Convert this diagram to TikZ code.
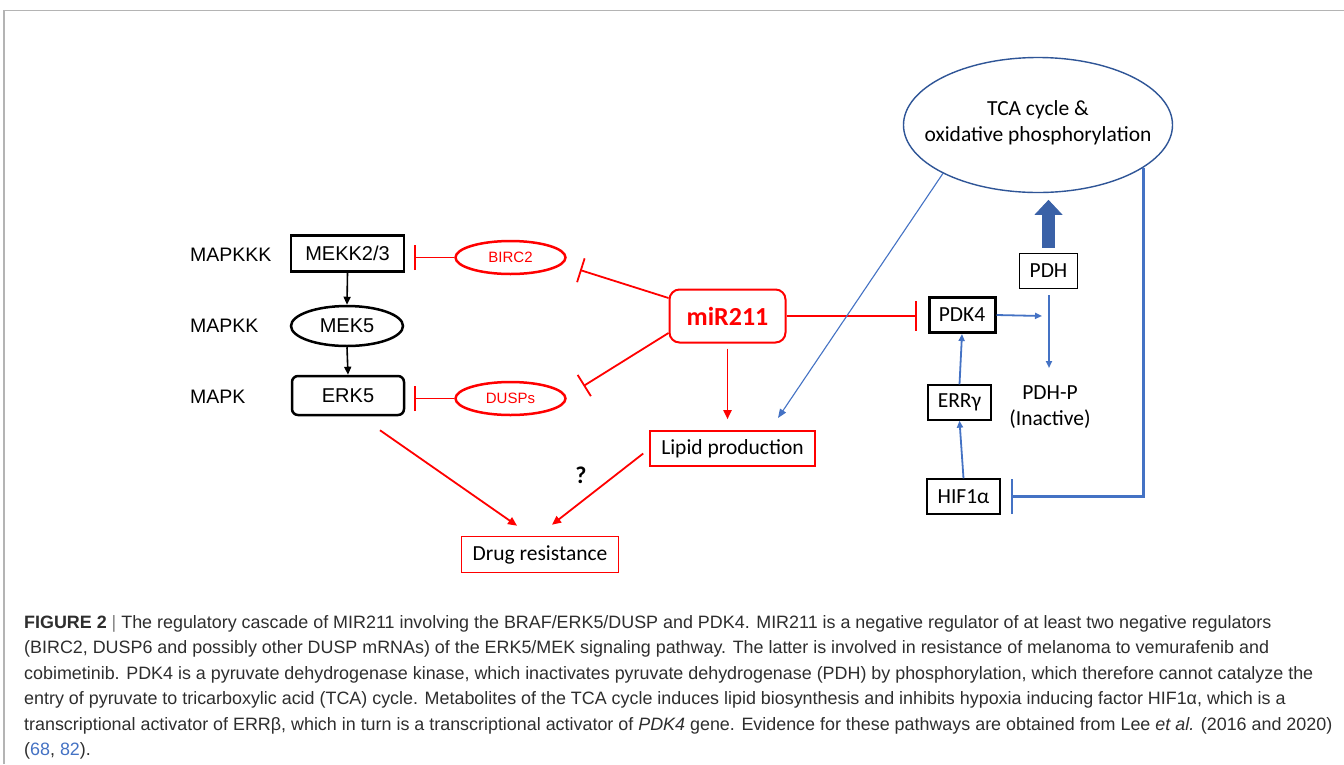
\documentclass[tikz,border=0pt]{standalone}
\usepackage{fontspec}
\setmainfont{Carlito}
\newfontfamily\arialf{Liberation Sans}
\usetikzlibrary{arrows.meta,shapes.geometric}
\definecolor{myred}{HTML}{FF0000}
\definecolor{myblue}{HTML}{4472C4}
\definecolor{darkblue}{HTML}{2F5597}
\definecolor{capgray}{HTML}{2E2E2E}
\definecolor{framegray}{HTML}{B4B4B4}
\begin{document}
\begin{tikzpicture}[x=1pt,y=-1pt,
  lab/.style={font=\arialf\fontsize{19.5}{22}\selectfont, anchor=west, inner sep=0pt},
  kbox/.style={draw=black, line width=2.5pt, inner sep=0pt, font=\arialf\fontsize{20}{24}\selectfont},
  rell/.style={ellipse, draw=myred, line width=2.5pt, inner sep=0pt, text=myred, font=\arialf\fontsize{15}{18}\selectfont, minimum width=110pt, minimum height=33pt},
  tbox/.style={draw=black, line width=1.3pt, inner sep=0pt, font=\fontsize{21.5}{24}\selectfont},
  rbox/.style={draw=myred, line width=1.6pt, inner sep=0pt, font=\fontsize{21.5}{24}\selectfont},
  kar/.style={draw=black, line width=1.6pt, -{Triangle[length=8pt,width=7pt]}},
  rar/.style={draw=myred, line width=1.8pt, -{Triangle[length=9pt,width=8pt]}},
  rinh/.style={draw=myred, line width=1.8pt, -{Bar[width=#1]}},
  rinh/.default=25pt,
  blar/.style={draw=myblue, line width=1.8pt, -{Triangle[length=7pt,width=6pt]}},
  bthin/.style={draw=myblue, line width=1.1pt, -{Triangle[length=9pt,width=7pt]}},
  binh/.style={draw=myblue, line width=2.4pt, -{Bar[width=35pt]}},
  blockar/.style={draw=myblue!85!black, fill=myblue, line width=13pt, -{Triangle[length=15pt,width=28pt, line width=0.8pt]}},
  captext/.style={font=\arialf\fontsize{17.9}{20}\selectfont, text=capgray, anchor=base west, inner sep=0pt}
]
\useasboundingbox (0,0) rectangle (1344,764);
\fill[white] (0,0) rectangle (1344,764);
% frame
\draw[framegray, line width=1.5pt] (4,764) -- (4,10.5) -- (1344,10.5);

% MAPK cascade
\node[lab] (l1) at (190,255) {MAPKKK};
\node[lab] (l2) at (190,326) {MAPKK};
\node[lab] (l3) at (190,397) {MAPK};
\node[kbox, minimum width=113pt, minimum height=36pt] (mekk) at (347.5,253.5) {MEKK2/3};
\node[kbox, ellipse, minimum width=112pt, minimum height=40pt] (mek5) at (347,326) {MEK5};
\node[kbox, rounded corners=6pt, minimum width=112pt, minimum height=39pt] (erk5) at (348,395.5) {ERK5};
\draw[kar] (mekk.south) -- (mek5.north);
\draw[kar] (mek5.south) -- (erk5.north);

\node[rell] (birc2) at (510.5,257.5) {BIRC2};
\node[rell] (dusps) at (510.5,398.5) {DUSPs};
\draw[rinh] (birc2.west) -- ([xshift=9pt]birc2.west -| mekk.east);
\draw[rinh] (dusps.west) -- ([xshift=9pt]dusps.west -| erk5.east);

% miR211
\node[draw=myred, line width=2pt, rounded corners=10pt, minimum width=116pt, minimum height=53pt, inner sep=0pt, text=myred, font=\bfseries\fontsize{26}{30}\selectfont] (mir) at (727.5,316) {miR211};
\coordinate (bb) at (580,270);
\coordinate (bd) at (583.5,386);
\draw[rinh=25pt] ([yshift=18pt]mir.west) -- (bb);
\draw[rinh=25pt] ([yshift=-17pt]mir.west) -- (bd);

% lipid and drug
\node[rbox, minimum width=165pt, minimum height=35pt] (lipid) at (732.5,448.5) {Lipid production};
\node[rbox, minimum width=157pt, minimum height=36pt] (drug) at (540,554.5) {Drug resistance};
\draw[rar] ([yshift=-5pt]mir.south) -- ([yshift=11pt]lipid.north -| mir.south);
\draw[rar] ([xshift=32pt,yshift=-14pt]erk5.south) -- ([xshift=-23pt,yshift=10pt]drug.north);
\draw[rar] ([xshift=-6pt,yshift=-5pt]lipid.west) -- ([xshift=12pt,yshift=11pt]drug.north);
\node[font=\bfseries\fontsize{24}{28}\selectfont, inner sep=0pt] (q) at (581,475) {?};

% right part
\node[ellipse, draw=darkblue, line width=1.4pt, minimum width=269pt, minimum height=135pt, inner sep=0pt] (tca) at (1038,125) {};
\node[align=center, inner sep=0pt, font=\fontsize{21.5}{26}\selectfont] (tcatext) at (1038,123) {TCA cycle \&\\oxidative phosphorylation};
\node[kbox, line width=3pt, font=\fontsize{21.5}{24}\selectfont, minimum width=66pt, minimum height=35pt] (pdk4) at (962,315) {PDK4};
\node[tbox, minimum width=58pt, minimum height=35pt] (pdh) at (1048.5,271) {PDH};
\node[tbox, minimum width=63pt, minimum height=35pt] (err) at (959.5,402.5) {ERRγ};
\node[tbox, minimum width=73pt, minimum height=35pt] (hif) at (963.5,496.5) {HIF1α};
\node[align=center, inner sep=0pt, font=\fontsize{21.5}{26}\selectfont] (pdhp) at (1050,407) {PDH-P\\(Inactive)};

\draw[rinh=30pt] (mir.east) -- ([xshift=-11pt]mir.east -| pdk4.west);
\coordinate (pk) at (1042,316);
\coordinate (pp) at (1049,368);
\coordinate (lp) at (778,418);
\draw[blar] (pdk4.east) -- (pk);
\draw[blar] ([yshift=-6pt]pdh.south -| pp) -- (pp);
\draw[blar] (hif.north) -- (err.south);
\draw[blar] (err.north) -- (pdk4.south);
\draw[bthin] (tca.207) -- (lp);
\draw[binh] (tca.-22) |- ([xshift=10pt]hif.east);
\draw[blockar] ([yshift=5pt]pdh.north) -- ([yshift=53pt]pdh.north);

% caption
\node[captext] (c1) at (24,628) {\textbf{FIGURE 2} {\color{gray}|} The regulatory cascade of MIR211 involving the BRAF/ERK5/DUSP and PDK4. MIR211 is a negative regulator of at least two negative regulators};
\node[captext] (c2) at (24,653.5) {(BIRC2, DUSP6 and possibly other DUSP mRNAs) of the ERK5/MEK signaling pathway. The latter is involved in resistance of melanoma to vemurafenib and};
\node[captext] (c3) at (24,679) {cobimetinib. PDK4 is a pyruvate dehydrogenase kinase, which inactivates pyruvate dehydrogenase (PDH) by phosphorylation, which therefore cannot catalyze the};
\node[captext] (c4) at (24,704.5) {entry of pyruvate to tricarboxylic acid (TCA) cycle. Metabolites of the TCA cycle induces lipid biosynthesis and inhibits hypoxia inducing factor HIF1α, which is a};
\node[captext] (c5) at (24,730) {transcriptional activator of ERRβ, which in turn is a transcriptional activator of \textit{PDK4} gene. Evidence for these pathways are obtained from Lee \textit{et al.} (2016 and 2020)};
\node[captext] (c6) at (24,755.5) {({\color{myblue}68}, {\color{myblue}82}).};
\end{tikzpicture}
\end{document}
